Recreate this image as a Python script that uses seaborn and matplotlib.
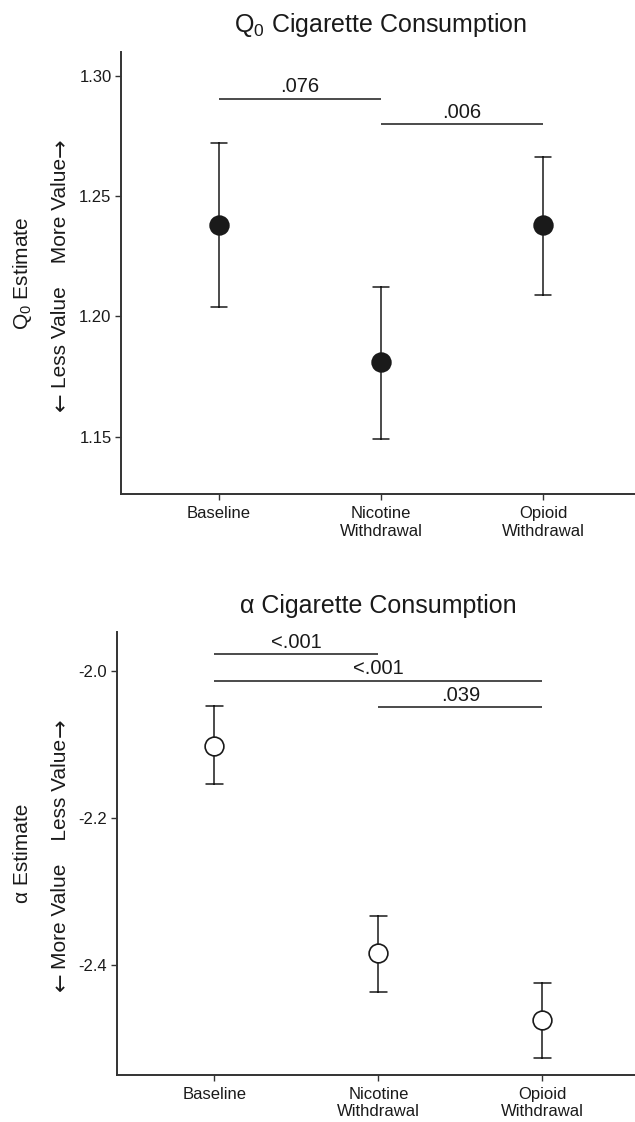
import numpy as np
import pandas as pd
import matplotlib
matplotlib.use('Agg')
import matplotlib.pyplot as plt
import matplotlib.transforms as mtransforms
import seaborn as sns

# conditions on the x axis
conditions = ['Baseline', 'Nicotine\nWithdrawal', 'Opioid\nWithdrawal']

# Q0 estimates with lower / upper error bar ends
q0_est = [1.238, 1.181, 1.238]
q0_lo = [1.204, 1.149, 1.209]
q0_hi = [1.272, 1.212, 1.266]
q0_ticks = [1.15, 1.20, 1.25, 1.30]
q0_pairs = [(0, 1), (1, 2)]
q0_pvals = ['.076', '.006']
q0_bar_y = [1.2905, 1.280]

# alpha estimates with lower / upper error bar ends
alpha_est = [-2.102, -2.384, -2.475]
alpha_lo = [-2.154, -2.437, -2.526]
alpha_hi = [-2.047, -2.333, -2.424]
alpha_ticks = [-2.4, -2.2, -2.0]
alpha_pairs = [(0, 1), (0, 2), (1, 2)]
alpha_pvals = ['<.001', '<.001', '.039']
alpha_bar_y = [-1.977, -2.013, -2.049]

sns.set_style('ticks')
plt.rcParams['font.family'] = ['Liberation Sans', 'DejaVu Sans']
plt.rcParams['mathtext.fontset'] = 'custom'
plt.rcParams['mathtext.rm'] = 'Liberation Sans'
plt.rcParams['mathtext.it'] = 'Liberation Sans:italic'
plt.rcParams['axes.unicode_minus'] = False

INK = '#1a1a1a'
SPINE = '#333333'

fig = plt.figure(figsize=(6.35, 11.22), dpi=100)
ax_top = fig.add_axes([0.191, 0.5594, 0.818, 0.3946])
ax_bot = fig.add_axes([0.184, 0.0419, 0.825, 0.3948])


def draw_panel(ax, est, lo, hi, face, title, lab1, lab2, ticks, fmt, ylim,
               pairs, pvals, bar_y, xlim):
    df = pd.DataFrame({
        'cond': np.repeat(conditions, 3),
        'value': np.column_stack([lo, est, hi]).ravel(),
    })
    sns.pointplot(data=df, x='cond', y='value', order=conditions,
                  estimator=np.median,
                  errorbar=lambda v: (np.min(v), np.max(v)),
                  linestyle='none', markers='o', color=INK,
                  markersize=13.5, markerfacecolor=face,
                  markeredgecolor=INK, markeredgewidth=1.2,
                  capsize=0.1, zorder=3,
                  err_kws={'linewidth': 1.1, 'color': INK, 'zorder': 2},
                  ax=ax)

    for (i, j), p, y in zip(pairs, pvals, bar_y):
        ax.plot([i, j], [y, y], color=INK, lw=1.1, solid_capstyle='butt')
        ax.annotate(p, xy=((i + j) / 2, y), xytext=(0, 1.5),
                    textcoords='offset points', ha='center', va='bottom',
                    fontsize=14.5, color=INK)

    ax.set_xlim(*xlim)
    ax.set_ylim(*ylim)
    ax.set_yticks(ticks)
    ax.set_yticklabels([fmt.format(t) for t in ticks])
    ax.set_xlabel('')
    ax.set_ylabel('')
    ax.set_title(title, fontsize=18, pad=14, color=INK)

    sns.despine(ax=ax)
    for s in ('left', 'bottom'):
        ax.spines[s].set_linewidth(1.4)
        ax.spines[s].set_color(SPINE)
    ax.tick_params(direction='out', length=4, width=1, color=SPINE,
                   labelsize=12, labelcolor=INK)
    ax.tick_params(axis='x', pad=4.5)
    ax.tick_params(axis='y', pad=3)

    tr = mtransforms.blended_transform_factory(fig.transFigure, ax.transAxes)
    ax.text(0.035, 0.5, lab1, transform=tr, rotation=90, ha='center',
            va='center', fontsize=15, color=INK)
    core = ax.text(0.096, 0.5, lab2, transform=tr, rotation=90, ha='center',
                   va='center', fontsize=15, color=INK)
    # arrows in DejaVu for a longer shaft, hung off the ends of the label
    ax.annotate('\u2190', xy=(0.5, 0), xycoords=core, xytext=(0, -3),
                textcoords='offset points', rotation=90, ha='center',
                va='top', fontsize=16, color=INK, family='DejaVu Sans')
    ax.annotate('\u2192', xy=(0.5, 1), xycoords=core, xytext=(0, 1),
                textcoords='offset points', rotation=90, ha='center',
                va='bottom', fontsize=16, color=INK, family='DejaVu Sans')


draw_panel(ax_top, q0_est, q0_lo, q0_hi, INK,
           r'Q$_{\mathregular{0}}$ Cigarette Consumption',
           r'Q$_{\mathregular{0}}$ Estimate',
           'Less Value    More Value',
           q0_ticks, '{:.2f}', (1.126, 1.310), q0_pairs, q0_pvals, q0_bar_y,
           (-0.6, 2.6))

draw_panel(ax_bot, alpha_est, alpha_lo, alpha_hi, 'white',
           '\u03b1 Cigarette Consumption',
           '\u03b1 Estimate',
           'More Value    Less Value',
           alpha_ticks, '{:.1f}', (-2.5497, -1.947), alpha_pairs, alpha_pvals,
           alpha_bar_y, (-0.595, 2.6))

fig.savefig('out.png', dpi=100)
